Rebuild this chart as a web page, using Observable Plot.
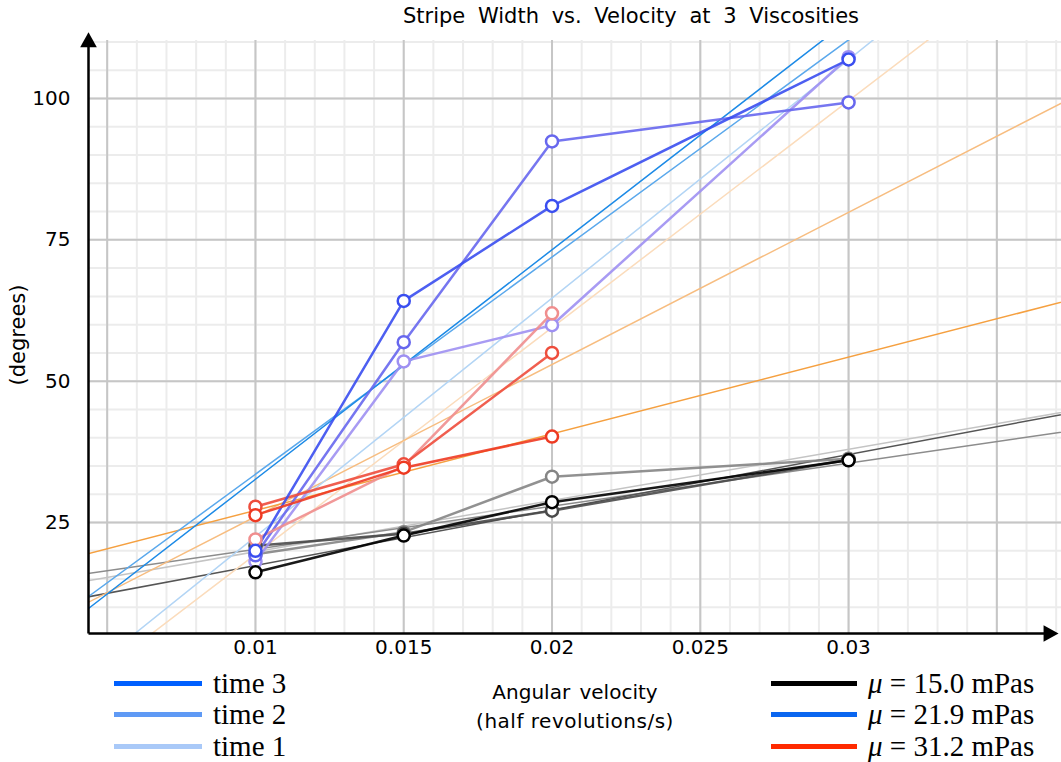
<!DOCTYPE html>
<html><head><meta charset="utf-8">
<script src="https://cdn.jsdelivr.net/npm/d3@7"></script>
<script src="https://cdn.jsdelivr.net/npm/@observablehq/plot@0.6"></script>
<style>
body{margin:0;background:#fff;}
#wrap{position:relative;width:1061px;height:762px;overflow:hidden;font-family:"DejaVu Sans",sans-serif;}
#wrap svg{position:absolute;left:0;top:0;overflow:visible;}
.abs{position:absolute;white-space:nowrap;color:#000;}
.leg{position:absolute;display:flex;align-items:center;height:32px;}
.leg .ln{height:5px;}
.leg .tx{font-family:"Liberation Serif","Times New Roman",serif;font-size:29px;line-height:32px;margin-left:11px;}
</style></head>
<body><div id="wrap"></div>
<script>
// ---- data ----
const title = "Stripe Width vs. Velocity at 3 Viscosities";
const xLabelLines = ["Angular velocity", "(half revolutions/s)"];
const yLabel = "(degrees)";
const xTicks = [0.01, 0.015, 0.02, 0.025, 0.03];
const xTickLabels = ["0.01", "0.015", "0.02", "0.025", "0.03"];
const yTicks = [25, 50, 75, 100];
const yTickLabels = ["25", "50", "75", "100"];
const xDomain = [0.00437, 0.03718];
const yDomain = [5.37, 110.26];
const xAxisArrowEnd = 0.0368;

const velocity = [0.01, 0.015, 0.02, 0.03];
const mu150_t3 = [16.2, 22.7, 28.6, 36.0];
const mu150_t2 = [20.9, 23.0, 27.1, 36.1];
const mu150_t1 = [19.4, 23.3, 33.1, 36.3];
const mu219_t3 = [20.0, 64.2, 81.0, 106.9];
const mu219_t2 = [19.2, 56.9, 92.4, 99.3];
const mu219_t1 = [18.1, 53.5, 59.9, 107.3];
const mu312_t3 = [26.3, 34.7, 40.2];
const mu312_t2 = [27.8, 35.3, 55.0];
const mu312_t1 = [22.0, 35.0, 62.0];

// fitted straight lines: value at the two x ends
const fitX = [0.004, 0.038];
const fitIds = ["g1", "g2", "g3", "o1", "o2", "o3", "b1", "b2", "b3"];
const fitAtLeft = [14.4, 15.7, 11.5, -4.7, 9.9, 19.0, -2.8, 10.5, 8.3];
const fitAtRight = [45.2, 41.6, 44.9, 131.7, 101.4, 65.1, 140.6, 141.1, 146.3];

const timeLabels = ["time 3", "time 2", "time 1"];
const muLabels = ["15.0", "21.9", "31.2"];

// ---- styles ----
const seriesColor = {
  mu150_t3: "#000000", mu150_t2: "#4a4a4a", mu150_t1: "#858585",
  mu219_t3: "#3a4ef0", mu219_t2: "#6767ee", mu219_t1: "#9e90f2",
  mu312_t3: "#ee3a22", mu312_t2: "#ee4d3c", mu312_t1: "#f08e8e"
};
const fitColor = {
  g3: "#555555", g2: "#8c8c8c", g1: "#c4c4c4",
  b3: "#1c8ae6", b2: "#5aa8ec", b1: "#b3d5f5",
  o3: "#f5a040", o2: "#f7bd80", o1: "#fbdcbc"
};
const timeLegendColors = ["#0060ff", "#5f9af5", "#a9c9f8"];
const muLegendColors = ["#000000", "#0a66f0", "#ff2a00"];

// ---- build tables ----
const seriesTable = {mu150_t3, mu150_t2, mu150_t1, mu219_t3, mu219_t2, mu219_t1, mu312_t3, mu312_t2, mu312_t1};
const points = [];
for (const [name, vals] of Object.entries(seriesTable)) {
  vals.forEach((v, i) => points.push({series: name, x: velocity[i], y: v}));
}
const order = ["mu150_t1","mu150_t2","mu219_t1","mu219_t2","mu312_t1","mu312_t2","mu150_t3","mu219_t3","mu312_t3"];
points.sort((a, b) => order.indexOf(a.series) - order.indexOf(b.series));
const fitRows = [];
fitIds.forEach((id, i) => {
  fitRows.push({id, x: fitX[0], y: fitAtLeft[i]});
  fitRows.push({id, x: fitX[1], y: fitAtRight[i]});
});

const xMinor = d3.range(5, 38).map(d => d / 1000);
const xMajor = [0.005, 0.01, 0.015, 0.02, 0.025, 0.03, 0.035];
const yMinor = d3.range(10, 111, 5);
const yMajor = [25, 50, 75, 100];

const plot = Plot.plot({
  width: 1061, height: 762,
  marginLeft: 88, marginRight: 0, marginTop: 40, marginBottom: 129,
  x: {domain: xDomain},
  y: {domain: yDomain},
  style: {fontFamily: "DejaVu Sans, sans-serif", color: "#000", background: "transparent"},
  marks: [
    Plot.gridX(xMinor, {stroke: "#ececec", strokeOpacity: 1, strokeWidth: 2}),
    Plot.gridY(yMinor, {stroke: "#ececec", strokeOpacity: 1, strokeWidth: 2}),
    Plot.gridX(xMajor, {stroke: "#c6c6c6", strokeOpacity: 1, strokeWidth: 2}),
    Plot.gridY(yMajor, {stroke: "#c6c6c6", strokeOpacity: 1, strokeWidth: 2}),
    Plot.line(fitRows, {x: "x", y: "y", z: "id", stroke: d => fitColor[d.id], strokeWidth: 1.5, clip: true}),
    Plot.line(points, {x: "x", y: "y", z: "series", stroke: d => seriesColor[d.series], strokeWidth: 2.5, strokeOpacity: 0.9}),
    Plot.dot(points, {x: "x", y: "y", r: 6, fill: "white", stroke: d => seriesColor[d.series], strokeWidth: 2.5}),
    Plot.axisX(xTicks, {tickSize: 0, tickPadding: 6, fontSize: 20, label: null, tickFormat: (d, i) => xTickLabels[i]}),
    Plot.axisY(yTicks, {tickSize: 0, tickPadding: 18, fontSize: 20, label: null, tickFormat: (d, i) => yTickLabels[i]}),
    Plot.link([0], {x1: () => xDomain[0], x2: () => xAxisArrowEnd, y1: () => yDomain[0], y2: () => yDomain[0],
      stroke: "black", strokeWidth: 2.5, markerEnd: "arrow"}),
    Plot.link([0], {x1: () => xDomain[0], x2: () => xDomain[0], y1: () => yDomain[0], y2: () => yDomain[1],
      stroke: "black", strokeWidth: 2.5, markerEnd: "arrow"})
  ]
});
plot.querySelectorAll("marker").forEach(m => {
  m.setAttribute("fill", "black");
  m.setAttribute("stroke", "none");
  const p = m.querySelector("path");
  if (p) p.setAttribute("d", "M-4,-5L5,0L-4,5Z");
});

const wrap = document.getElementById("wrap");
wrap.appendChild(plot);

function addText(txt, css) {
  const d = document.createElement("div");
  d.className = "abs";
  d.textContent = txt;
  Object.assign(d.style, css);
  wrap.appendChild(d);
  return d;
}
addText(title, {left: "631px", top: "4px", transform: "translateX(-50%)", fontSize: "21px", wordSpacing: "6px"});
addText(xLabelLines[0], {left: "575px", top: "680px", transform: "translateX(-50%)", fontSize: "20px", wordSpacing: "3px"});
addText(xLabelLines[1], {left: "575px", top: "709px", transform: "translateX(-50%)", fontSize: "20px", letterSpacing: "0.5px"});
addText(yLabel, {left: "18px", top: "335px", transform: "translate(-50%,-50%) rotate(-90deg)", fontSize: "21px"});

const rowCenters = [683, 714, 746];
timeLabels.forEach((t, i) => {
  const d = document.createElement("div");
  d.className = "leg";
  d.style.left = "114px";
  d.style.top = (rowCenters[i] - 16) + "px";
  d.innerHTML = `<div class="ln" style="width:88px;background:${timeLegendColors[i]}"></div><div class="tx">${t}</div>`;
  wrap.appendChild(d);
});
muLabels.forEach((m, i) => {
  const d = document.createElement("div");
  d.className = "leg";
  d.style.left = "771px";
  d.style.top = (rowCenters[i] - 16) + "px";
  d.innerHTML = `<div class="ln" style="width:86px;background:${muLegendColors[i]}"></div><div class="tx"><i>μ</i> = ${m} mPas</div>`;
  wrap.appendChild(d);
});
</script></body></html>
